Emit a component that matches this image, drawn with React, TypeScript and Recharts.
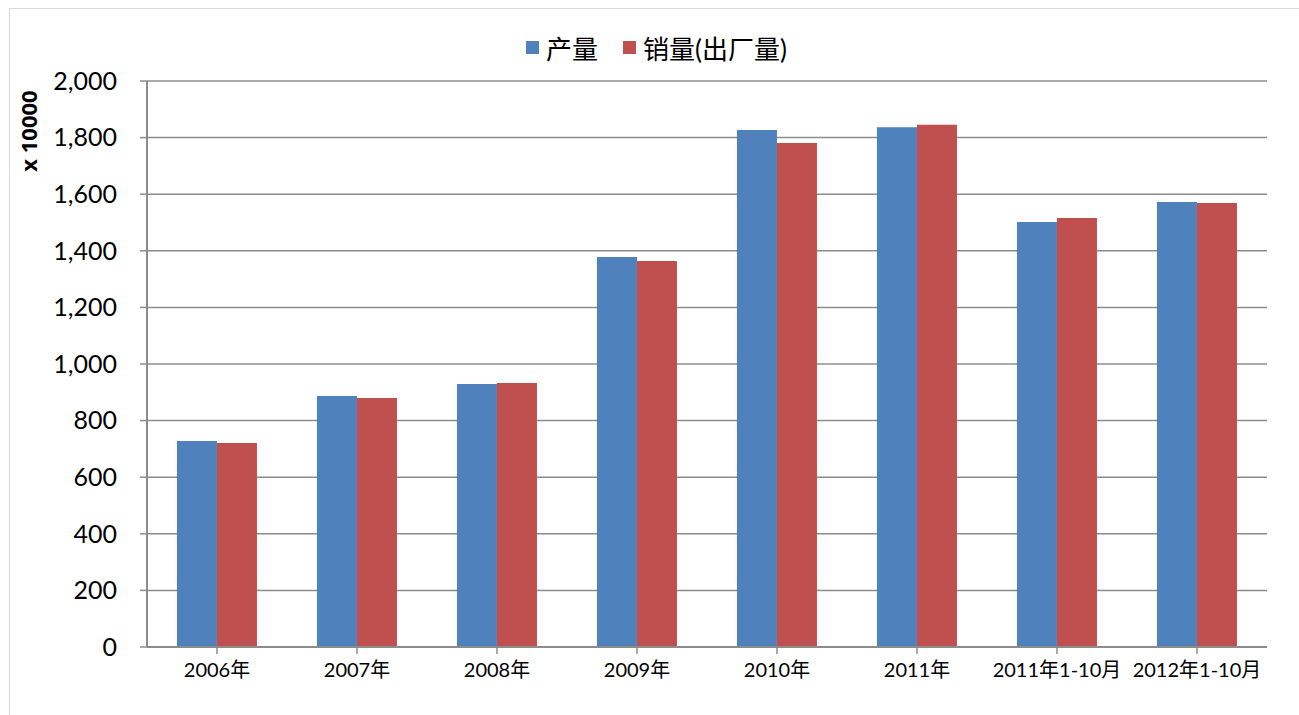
import React from "react";
import { BarChart, Bar, XAxis, YAxis, CartesianGrid } from "recharts";

const categories = ["2006年", "2007年", "2008年", "2009年", "2010年", "2011年", "2011年1-10月", "2012年1-10月"];
const production = [728, 887, 929, 1378, 1827, 1837, 1502, 1572];
const sales = [721, 880, 933, 1364, 1781, 1845, 1516, 1569];
const yTicks = [0, 200, 400, 600, 800, 1000, 1200, 1400, 1600, 1800, 2000];
const seriesNames = ["产量", "销量(出厂量)"];
const colors = ["#4F81BD", "#C0504D"];

const data = categories.map((c, i) => ({ name: c, production: production[i], sales: sales[i] }));

const FONT = "'Lato', 'Noto Sans CJK SC', sans-serif";

export default function App() {
  return (
    <div style={{ position: "absolute", left: 0, top: 0, width: 1299, height: 715, background: "#fff", overflow: "hidden" }}>
      <div style={{ position: "absolute", left: 9, top: 8, width: 1310, height: 720, border: "1px solid #d9d9d9", boxSizing: "border-box" }} />
      <div style={{ position: "absolute", left: 526, top: 30, height: 34, display: "flex", alignItems: "center", fontFamily: FONT, fontSize: 26, color: "#000" }}>
        {seriesNames.map((n, i) => (
          <div key={n} style={{ display: "flex", alignItems: "center", marginRight: i === 0 ? 25 : 0 }}>
            <div style={{ width: 13, height: 13, background: colors[i], marginRight: 7 }} />
            <span>{n}</span>
          </div>
        ))}
      </div>
      <div style={{ position: "absolute", left: 0, top: 0 }}>
        <BarChart
          width={1299}
          height={715}
          data={data}
          margin={{ top: 81, right: 32, bottom: 38, left: 0 }}
          barCategoryGap="21.4%"
          barGap={0}
        >
          <CartesianGrid vertical={false} stroke="#8c8c8c" strokeWidth={1.5} />
          <XAxis
            dataKey="name"
            height={30}
            interval={0}
            axisLine={{ stroke: "#8c8c8c", strokeWidth: 2 }}
            tickLine={{ stroke: "#8c8c8c", strokeWidth: 1.5 }}
            tickSize={7}
            tickMargin={9}
            tick={{ fill: "#000", fontSize: 20, fontFamily: FONT }}
            scale="band"
          />
          <YAxis
            width={147}
            domain={[0, 2000]}
            ticks={yTicks}
            interval={0}
            axisLine={{ stroke: "#8c8c8c", strokeWidth: 2 }}
            tickLine={{ stroke: "#8c8c8c", strokeWidth: 1.5 }}
            tickSize={7}
            tickMargin={23}
            tick={{ fill: "#000", fontSize: 25, fontFamily: FONT }}
            tickFormatter={(v: number) => v.toLocaleString("en-US")}
            label={{
              value: "x 10000",
              angle: -90,
              position: "insideLeft",
              dx: 24,
              dy: -233,
              style: { fontFamily: "'Open Sans', sans-serif", fontWeight: 700, fontSize: 22, fill: "#000", textAnchor: "middle" },
            }}
          />
          <Bar dataKey="production" name={seriesNames[0]} fill={colors[0]} isAnimationActive={false} />
          <Bar dataKey="sales" name={seriesNames[1]} fill={colors[1]} isAnimationActive={false} />
        </BarChart>
      </div>
    </div>
  );
}
